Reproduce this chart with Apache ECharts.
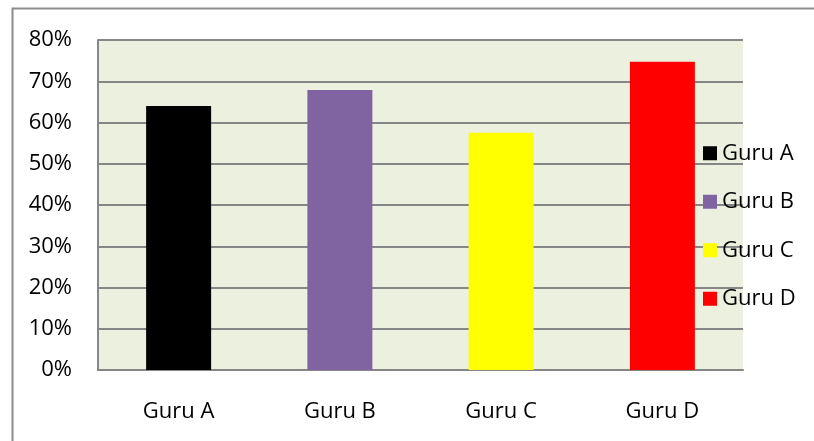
<!DOCTYPE html>
<html>
<head>
<meta charset="utf-8">
<script src="https://cdn.jsdelivr.net/npm/echarts@6/dist/echarts.min.js"></script>
<style>
  html, body { margin: 0; padding: 0; background: #ffffff; }
  #chart { width: 814px; height: 441px; }
</style>
</head>
<body>
<div id="chart"></div>
<script>
const categories = ['Guru A', 'Guru B', 'Guru C', 'Guru D'];
const values = [0.640, 0.679, 0.575, 0.747];
const colors = ['#000000', '#8064A2', '#FFFF00', '#FF0000'];
const yTicks = [0, 0.1, 0.2, 0.3, 0.4, 0.5, 0.6, 0.7, 0.8];

const FONT = 'Open Sans';

const series = categories.map((name, i) => ({
  name: name,
  type: 'bar',
  barWidth: 65,
  barGap: '-100%',
  itemStyle: { color: colors[i] },
  data: categories.map((c, j) => (j === i ? values[i] : null))
}));

const chart = echarts.init(document.getElementById('chart'), null, { renderer: 'canvas' });
chart.setOption({
  animation: false,
  backgroundColor: '#ffffff',
  graphic: [{
    type: 'rect',
    left: 10, top: 6,
    shape: { width: 900, height: 500 },
    style: { fill: 'none', stroke: '#8c8c8c', lineWidth: 2 },
    z: -1
  }],
  grid: {
    left: 98, right: 71, top: 40, bottom: 71,
    show: true,
    backgroundColor: '#EBF1DE',
    borderWidth: 0
  },
  legend: {
    orient: 'vertical',
    left: 703,
    top: 141,
    padding: 0,
    icon: 'rect',
    itemWidth: 14,
    itemHeight: 14,
    itemGap: 24,
    textStyle: { fontFamily: FONT, fontSize: 22, color: '#000000', lineHeight: 24.5 },
    data: categories
  },
  xAxis: {
    type: 'category',
    data: categories,
    axisLine: { show: true, lineStyle: { color: '#868686', width: 2 } },
    axisTick: { show: false },
    axisLabel: { fontFamily: FONT, fontSize: 22, color: '#000000', margin: 31 }
  },
  yAxis: {
    type: 'value',
    min: yTicks[0],
    max: yTicks[yTicks.length - 1],
    interval: 0.1,
    axisLine: { show: true, lineStyle: { color: '#868686', width: 2 } },
    axisTick: { show: false },
    splitLine: { show: true, lineStyle: { color: '#868686', width: 2 } },
    axisLabel: {
      fontFamily: FONT, fontSize: 22, color: '#000000', margin: 26,
      formatter: v => Math.round(v * 100) + '%'
    }
  },
  series: series
});
</script>
</body>
</html>
